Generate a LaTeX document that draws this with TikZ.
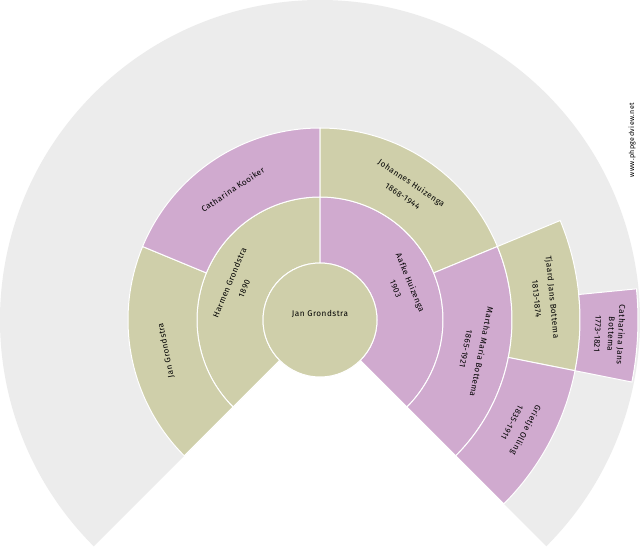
\documentclass[tikz,border=0pt]{standalone}
\usepackage{fontspec}
\setmainfont{Fira Sans}[Numbers=Lining,LetterSpace=6]
\definecolor{tan}{HTML}{CFCFAA}
\definecolor{pur}{HTML}{D0AACF}
\definecolor{bg}{HTML}{ECECEC}
\newcommand{\fanseg}[5]{\fill[#5,draw=white,line width=0.03cm] (#3:#1) arc[start angle=#3,end angle=#4,radius=#1] -- (#4:#2) arc[start angle=#4,end angle=#3,radius=#2] -- cycle;}
\tikzset{lbl/.style={font=\fontsize{7}{8.5}\selectfont,align=center,inner sep=0pt}}
\begin{document}
\begin{tikzpicture}[x=0.03cm,y=0.03cm]
\useasboundingbox (0,0) rectangle (640,550);
\fill[white] (0,0) rectangle (640,550);
\begin{scope}[shift={(320,230)}]
\fill[bg] (0,0) -- (225:320) arc[start angle=225,end angle=-45,radius=320] -- cycle;
\fanseg{57}{123}{90}{225}{tan}
\fanseg{57}{123}{-45}{90}{pur}
\fanseg{123}{192}{157.5}{225}{tan}
\fanseg{123}{192}{90}{157.5}{pur}
\fanseg{123}{192}{22.5}{90}{tan}
\fanseg{123}{192}{-45}{22.5}{pur}
\fanseg{192}{260}{-11.25}{22.5}{tan}
\fanseg{192}{260}{-45}{-11.25}{pur}
\fanseg{260}{318}{-11.25}{5.625}{pur}
\fill[tan,draw=white,line width=0.03cm] (0,0) circle (57);
\node[lbl] (p1) at (0,6) {Jan Grondstra};
\node[lbl,rotate=67.5] (p2) at (157.5:90) {Harmen Grondstra\\[5pt]1890};
\node[lbl,rotate=-67.5] (p3) at (22.5:90) {Aafke Huizenga\\[5pt]1903};
\node[lbl,rotate=101.25] (p4) at (191.25:157) {Jan Grondstra};
\node[lbl,rotate=33.75] (p5) at (123.75:157) {Catharina Kooiker};
\node[lbl,rotate=-33.75] (p6) at (56.25:157) {Johannes Huizenga\\[5pt]1868-1944};
\node[lbl,rotate=-101.25] (p7) at (-11.25:157) {Martha Maria Bottema\\[5pt]1865-1921};
\node[lbl,rotate=-84.4] (p8) at (5.6:226) {Tjaard Jans Bottema\\[5pt]1813-1874};
\node[lbl,rotate=-118.1] (p9) at (-28.1:226) {Grietje Olling\\[5pt]1835-1911};
\node[lbl,rotate=-92.8] (p10) at (-2.8:290) {Catharina Jans\\Bottema\\[3pt]1773-1821};
\end{scope}
\node[font=\fontsize{6}{7}\selectfont,rotate=90,inner sep=0pt] (wm) at (632,410) {www.phpgedview.net};
\end{tikzpicture}
\end{document}
